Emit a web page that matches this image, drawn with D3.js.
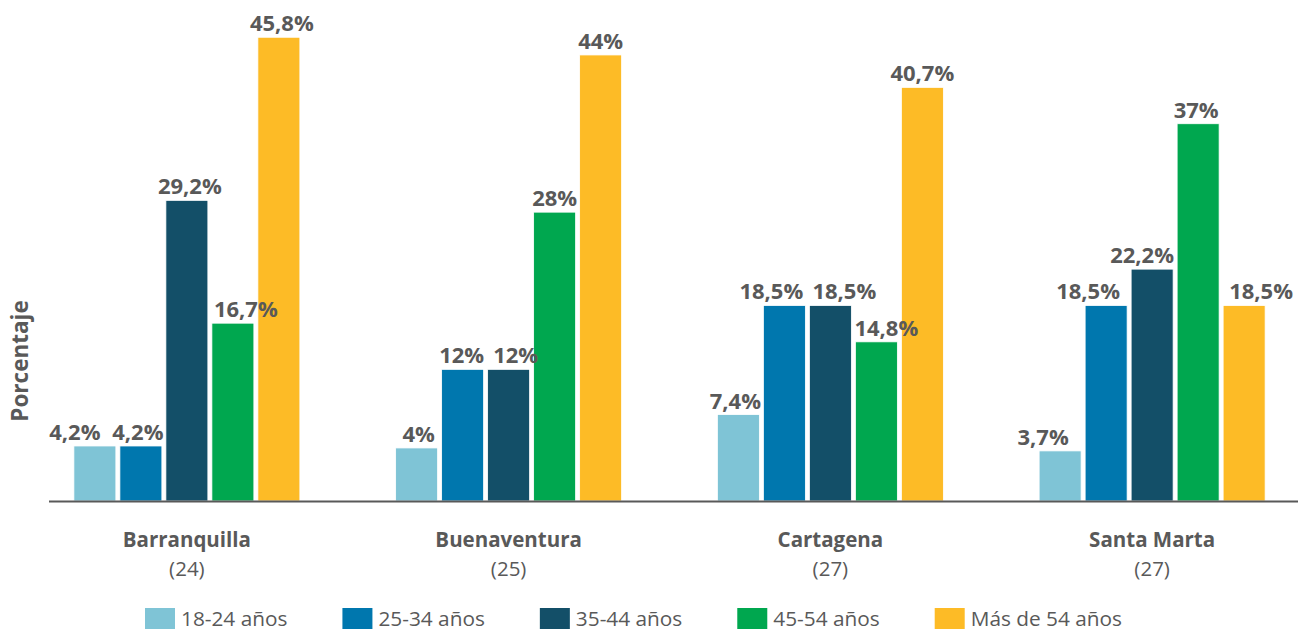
<!DOCTYPE html>
<html lang="es">
<head>
<meta charset="utf-8">
<script src="https://cdn.jsdelivr.net/npm/d3@7"></script>
<style>
  html, body { margin: 0; padding: 0; background: #ffffff; }
  svg { display: block; font-family: "Open Sans", "Noto Sans", sans-serif; }
</style>
</head>
<body>
<svg id="chart" width="1298" height="631"></svg>
<script>
// Ciudades y tamaño de muestra
const cities = ["Barranquilla", "Buenaventura", "Cartagena", "Santa Marta"];
const sampleSizes = [24, 25, 27, 27];

// Grupos de edad
const ageGroups = ["18-24 años", "25-34 años", "35-44 años", "45-54 años", "Más de 54 años"];

// Porcentaje por grupo de edad, en el orden de las ciudades
const age18to24 = [4.2, 4, 7.4, 3.7];
const age25to34 = [4.2, 12, 18.5, 18.5];
const age35to44 = [29.2, 12, 18.5, 22.2];
const age45to54 = [16.7, 28, 14.8, 37];
const ageOver54 = [45.8, 44, 40.7, 18.5];

const seriesValues = [age18to24, age25to34, age35to44, age45to54, ageOver54];
const colors = ["#7fc4d6", "#0077ae", "#134f68", "#00a74f", "#fdbb26"];

// Ajuste horizontal de etiquetas para que no se encimen (px, por ciudad y grupo)
const labelShift = [
  [-20, -3, 3, 13, 3],
  [2, -1, 7, 0, 0],
  [-3, -13, 14, 10, 0],
  [-17, -18, -10, -2, 17]
];

const textColor = "#595959";
const svg = d3.select("#chart");

const baseline = 501;
const y = d3.scaleLinear().domain([-1.4, 50]).range([baseline, -4]);

const x0 = d3.scaleBand()
  .domain(cities)
  .range([26, 1313])
  .paddingInner(0.2976)
  .paddingOuter(0.1488);

const x1 = d3.scaleBand()
  .domain(ageGroups)
  .range([0, x0.bandwidth()])
  .paddingInner(0.087)
  .paddingOuter(0);

const fmt = v => String(v).replace(".", ",") + "%";

// Barras
const groups = svg.append("g").selectAll("g")
  .data(cities)
  .join("g")
  .attr("transform", c => `translate(${x0(c)},0)`);

groups.each(function (city, ci) {
  const g = d3.select(this);
  const rows = ageGroups.map((a, si) => ({ a, si, v: seriesValues[si][ci] }));
  g.selectAll("rect")
    .data(rows)
    .join("rect")
    .attr("x", d => x1(d.a))
    .attr("y", d => y(d.v))
    .attr("width", x1.bandwidth())
    .attr("height", d => baseline - y(d.v))
    .attr("fill", d => colors[d.si])
    .attr("stroke", "#ffffff")
    .attr("stroke-width", 0.8);

  g.selectAll("text.val")
    .data(rows)
    .join("text")
    .attr("class", "val")
    .attr("x", d => x1(d.a) + x1.bandwidth() / 2 + labelShift[ci][d.si])
    .attr("y", d => y(d.v) - 6)
    .attr("text-anchor", "middle")
    .attr("font-size", 22)
    .attr("font-weight", 700)
    .attr("fill", textColor)
    .text(d => fmt(d.v));
});

// Eje horizontal
svg.append("line")
  .attr("x1", 49).attr("x2", 1298)
  .attr("y1", baseline + 0.5).attr("y2", baseline + 0.5)
  .attr("stroke", textColor)
  .attr("stroke-width", 2.2);

// Etiquetas de categoría
const cat = svg.append("g").selectAll("g")
  .data(cities)
  .join("g")
  .attr("transform", c => `translate(${x0(c) + x0.bandwidth() / 2},0)`);

cat.append("text")
  .attr("y", 547)
  .attr("text-anchor", "middle")
  .attr("font-size", 20.5)
  .attr("font-weight", 700)
  .attr("fill", textColor)
  .text(c => c);

cat.append("text")
  .attr("y", 576)
  .attr("text-anchor", "middle")
  .attr("font-size", 20.5)
  .attr("fill", textColor)
  .text((c, i) => `(${sampleSizes[i]})`);

// Título del eje vertical
svg.append("text")
  .attr("transform", "translate(28,361) rotate(-90)")
  .attr("text-anchor", "middle")
  .attr("font-size", 22.5)
  .attr("font-weight", 700)
  .attr("fill", textColor)
  .text("Porcentaje");

// Leyenda
const legend = svg.append("g");
const items = legend.selectAll("g")
  .data(ageGroups)
  .join("g");

items.append("rect")
  .attr("y", 608)
  .attr("width", 30)
  .attr("height", 21)
  .attr("fill", (d, i) => colors[i]);

items.append("text")
  .attr("x", 36)
  .attr("y", 626)
  .attr("font-size", 20.8)
  .attr("fill", textColor)
  .text(d => d);

// Distribución horizontal de la leyenda entre x=145 y x=1122
const widths = [];
items.each(function () {
  widths.push(36 + d3.select(this).select("text").node().getComputedTextLength());
});
const total = d3.sum(widths);
const gap = (1122 - 145 - total) / (ageGroups.length - 1);
let cx = 145;
items.each(function (d, i) {
  d3.select(this).attr("transform", `translate(${cx},0)`);
  cx += widths[i] + gap;
});
</script>
</body>
</html>
